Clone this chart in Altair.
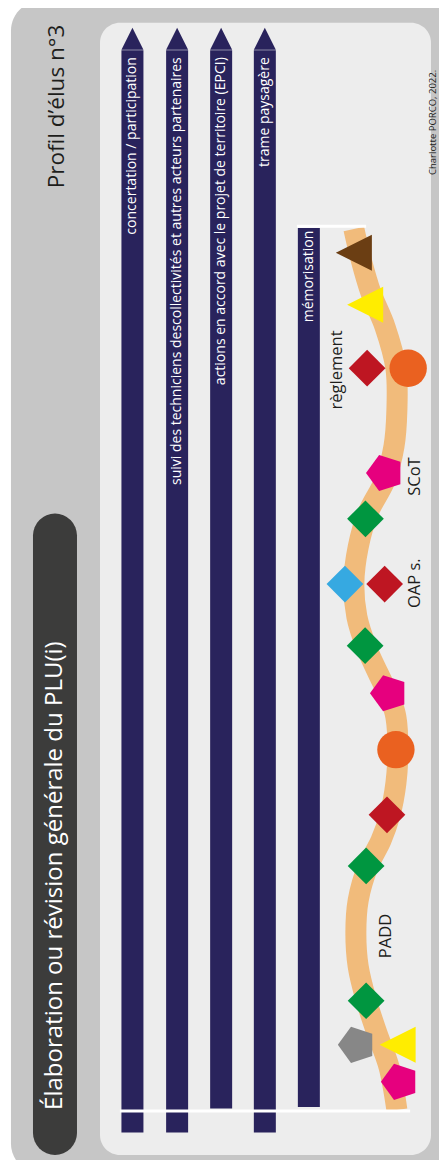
import altair as alt
import pandas as pd

# ---------------- data ----------------
# background frames (lateral units, progress units)
outer_box = {"x0": -26.9, "x1": 112.0, "y0": -7.2, "y1": 125.9}
inner_box = {"x0": 0.0, "x1": 100.0, "y0": -5.1, "y1": 123.4}

title_text = "Élaboration ou révision générale du PLU(i)"
title_pill = {"x": -13.6, "y0": -2.6, "y1": 65.2, "ty": 26.6}
profile_text = "Profil d’élus n°3"
profile_pos = {"x": -13.0, "y": 113.9}
credit_text = "Charlotte PORCO, 2022."
credit_pos = {"x": 100.75, "y": 112.1}

# transversal streams (lanes)
lane_labels = [
    "concertation / participation",
    "suivi des techniciens descollectivités et autres acteurs partenaires",
    "actions en accord avec le projet de territoire (EPCI)",
    "trame paysagère",
    "mémorisation",
]
lane_x = [9.8, 23.3, 36.6, 49.8, 63.1]
lane_start = [-2.55, -2.55, 0.17, -2.55, 0.34]
lane_end = [120.3, 120.3, 120.3, 120.3, 100.1]
lane_label_top = [119.5, 119.5, 119.5, 119.5, 99.8]
lane_arrow = [True, True, True, True, False]
arrow_y = 121.6

# white marker lines
base_line = {"x0": 6.0, "x1": 93.7, "y": -0.1}
top_line = {"x0": 59.5, "x1": 80.4, "y": 100.3}

# procedure path (timeline curve)
curve_y = [100.0, 96.5, 92.7, 88.9, 84.2, 79.5, 75.3, 71.5, 67.8, 63.9, 59.8, 56.0,
           52.6, 49.6, 46.5, 44.6, 40.9, 37.1, 33.5, 30.6, 27.7, 23.8, 20.1, 16.3,
           12.5, 8.7, 4.9, 0.0]
curve_x = [76.7, 78.9, 81.9, 86.1, 89.4, 89.7, 88.8, 86.1, 81.0, 78.0, 76.7, 77.6,
           80.4, 84.0, 87.9, 89.4, 90.0, 89.4, 87.6, 84.9, 81.0, 78.0, 77.3, 78.0,
           80.4, 83.7, 87.3, 89.7]

# milestones along the path
ms_kind = ["triangle", "triangle", "diamond", "circle", "pentagon", "diamond", "diamond",
           "diamond", "diamond", "pentagon", "circle", "diamond", "diamond", "diamond",
           "pentagon", "triangle", "pentagon"]
ms_tone = ["brun", "jaune", "rouge", "orange", "rose", "vert", "bleu", "rouge", "vert",
           "rose", "orange", "rouge", "vert", "vert", "gris", "jaune", "rose"]
ms_x = [76.7, 80.1, 80.7, 93.1, 86.1, 80.2, 74.0, 86.0, 80.1, 87.3, 89.4, 86.7, 80.4,
        80.4, 77.6, 89.9, 90.6]
ms_y = [97.3, 91.4, 84.2, 84.2, 72.3, 67.1, 59.7, 59.7, 52.7, 47.3, 40.9, 33.5, 27.7,
        12.4, 7.4, 7.4, 3.2]

# step labels
step_labels = ["règlement", "SCoT", "OAP s.", "PADD"]
step_x = [71.6, 95.2, 95.2, 86.4]
step_y = [84.0, 71.9, 59.8, 19.75]

# ---------------- styling ----------------
NAVY = "#29235c"
FONT = "Open Sans"
tone_domain = ["brun", "jaune", "rouge", "orange", "rose", "vert", "bleu", "gris"]
tone_range = ["#6b3e13", "#ffed00", "#be1622", "#ea6120", "#e6007e", "#009640", "#36a9e1", "#878787"]
kind_domain = ["triangle", "diamond", "circle", "pentagon"]
kind_shapes = ["M-1,0L1,-1L1,1Z", "diamond", "circle",
               "M-1,0L-0.309,-0.951L0.809,-0.588L0.809,0.588L-0.309,0.951Z"]
kind_sizes = [1300, 1444, 1444, 1764]

XS = alt.Scale(domain=[0, 100], range=[92, 423], nice=False, zero=False)
YS = alt.Scale(domain=[0, 100], range=[1102, 221], nice=False, zero=False)


def X(f):
    return alt.X(f, type="quantitative", scale=XS, axis=None)


def Y(f):
    return alt.Y(f, type="quantitative", scale=YS, axis=None)


# ---------------- tables ----------------
boxes = pd.DataFrame([outer_box])
inner = pd.DataFrame([inner_box])
pill = pd.DataFrame([title_pill])
lanes = pd.DataFrame({"label": lane_labels, "x": lane_x, "y0": lane_start, "y1": lane_end,
                      "ty": lane_label_top, "arrow": lane_arrow})
heads = lanes[lanes["arrow"]].assign(ay=arrow_y)
lines = pd.DataFrame([base_line, top_line])
curve = pd.DataFrame({"i": list(range(len(curve_x))), "x": curve_x, "y": curve_y})
ms = pd.DataFrame({"kind": ms_kind, "tone": ms_tone, "x": ms_x, "y": ms_y})
steps = pd.DataFrame({"label": step_labels, "x": step_x, "y": step_y})
titles = pd.DataFrame([{"t": title_text, "x": title_pill["x"], "y": title_pill["ty"]}])
profile = pd.DataFrame([{"t": profile_text, **profile_pos}])
credit = pd.DataFrame([{"t": credit_text, **credit_pos}])

# ---------------- layers ----------------
outer_l = alt.Chart(boxes).mark_rect(color="#c6c6c6", cornerRadius=30).encode(
    x=X("x0"), x2=alt.X2("x1"), y=Y("y0"), y2=alt.Y2("y1"))
inner_l = alt.Chart(inner).mark_rect(color="#ededed", cornerRadius=20).encode(
    x=X("x0"), x2=alt.X2("x1"), y=Y("y0"), y2=alt.Y2("y1"))
pill_l = alt.Chart(pill).mark_rule(color="#3c3c3b", strokeWidth=44, strokeCap="round").encode(
    x=X("x"), y=Y("y0"), y2=alt.Y2("y1"))
title_l = alt.Chart(titles).mark_text(color="white", font=FONT, fontSize=24, angle=270,
                                      align="center", baseline="middle").encode(
    x=X("x"), y=Y("y"), text="t:N")
profile_l = alt.Chart(profile).mark_text(color="#1d1d1b", font=FONT, fontSize=22.5, angle=270,
                                         align="center", baseline="middle").encode(
    x=X("x"), y=Y("y"), text="t:N")
credit_l = alt.Chart(credit).mark_text(color="#1d1d1b", font=FONT, fontSize=9.5, angle=270,
                                       align="center", baseline="middle").encode(
    x=X("x"), y=Y("y"), text="t:N")

lane_l = alt.Chart(lanes).mark_rule(color=NAVY, strokeWidth=22).encode(
    x=X("x"), y=Y("y0"), y2=alt.Y2("y1"))
head_l = alt.Chart(heads).mark_point(shape="M-1,1L0,-1L1,1Z", size=484, filled=True,
                                     color=NAVY, opacity=1, strokeWidth=0).encode(
    x=X("x"), y=Y("ay"))
lane_txt = alt.Chart(lanes).mark_text(color="white", font=FONT, fontSize=14, angle=270,
                                      align="right", baseline="middle").encode(
    x=X("x"), y=Y("ty"), text="label:N")

curve_l = alt.Chart(curve).mark_line(color="#f1bb7b", strokeWidth=21, interpolate="catmull-rom",
                                     strokeCap="butt").encode(
    x=X("x"), y=Y("y"), order=alt.Order("i:Q"))
line_l = alt.Chart(lines).mark_rule(color="white", strokeWidth=3).encode(
    x=X("x0"), x2=alt.X2("x1"), y=Y("y"))

ms_l = alt.Chart(ms).mark_point(filled=True, opacity=1, strokeWidth=0).encode(
    x=X("x"), y=Y("y"),
    shape=alt.Shape("kind:N", scale=alt.Scale(domain=kind_domain, range=kind_shapes), legend=None),
    size=alt.Size("kind:N", scale=alt.Scale(domain=kind_domain, range=kind_sizes), legend=None),
    color=alt.Color("tone:N", scale=alt.Scale(domain=tone_domain, range=tone_range), legend=None),
)
step_l = alt.Chart(steps).mark_text(color="#1d1d1b", font=FONT, fontSize=16.5, angle=270,
                                    align="center", baseline="middle").encode(
    x=X("x"), y=Y("y"), text="label:N")

chart = alt.layer(
    outer_l, inner_l, pill_l, title_l, profile_l, credit_l,
    lane_l, head_l, lane_txt, curve_l, line_l, ms_l, step_l,
).properties(
    width=431, height=1152, padding=0, autosize=alt.AutoSizeParams(type="none")
).configure_view(strokeWidth=0).resolve_scale(shape="independent", size="independent", color="independent")

chart.save("out.html", embed_options={"renderer": "svg", "actions": False})
